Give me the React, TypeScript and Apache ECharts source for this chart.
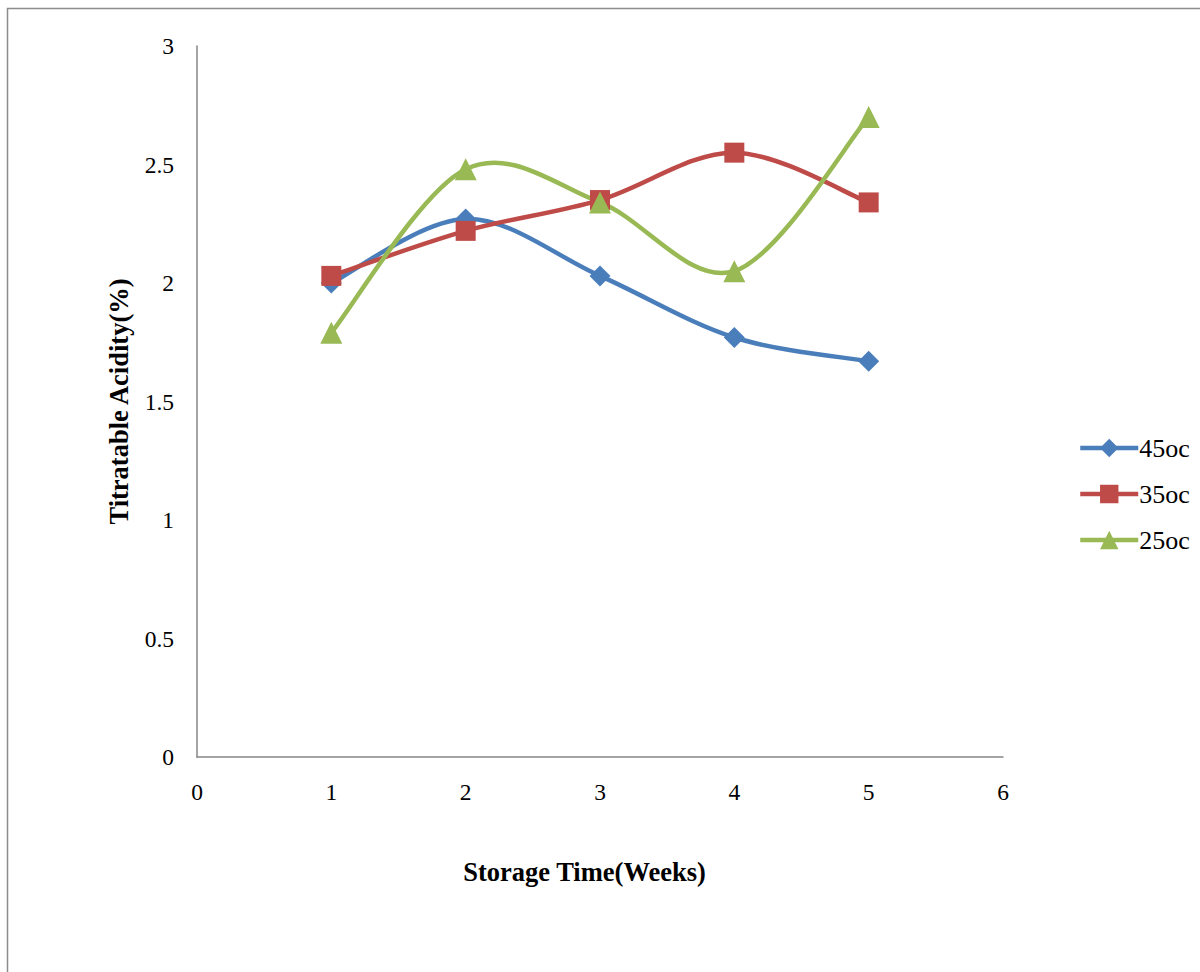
import React, { useEffect, useRef } from "react";
import * as echarts from "echarts";

// Storage time in weeks
const weeks = [1, 2, 3, 4, 5];
// Titratable acidity (%) at each storage temperature
const acidity45 = [2.0, 2.27, 2.03, 1.77, 1.67];
const acidity35 = [2.03, 2.22, 2.35, 2.55, 2.34];
const acidity25 = [1.79, 2.48, 2.34, 2.05, 2.7];
const seriesNames = ["45oc", "35oc", "25oc"];
const yTicks = { min: 0, max: 3, interval: 0.5 };
const xTicks = { min: 0, max: 6, interval: 1 };

const FONT = "'Liberation Serif', 'Times New Roman', serif";
const colors = ["#4A7EBB", "#BE4B48", "#98B954"];
const symbols = ["diamond", "rect", "triangle"];
const LINE_W = 4.5;

// Catmull-Rom spline through pixel points, emitted as cubic Bezier path data
function splinePath(pts: number[][]): string {
  let d = `M${pts[0][0]},${pts[0][1]}`;
  for (let i = 0; i < pts.length - 1; i++) {
    const p0 = pts[Math.max(0, i - 1)];
    const p1 = pts[i];
    const p2 = pts[i + 1];
    const p3 = pts[Math.min(pts.length - 1, i + 2)];
    const c1x = p1[0] + (p2[0] - p0[0]) / 6;
    const c1y = p1[1] + (p2[1] - p0[1]) / 6;
    const c2x = p2[0] - (p3[0] - p1[0]) / 6;
    const c2y = p2[1] - (p3[1] - p1[1]) / 6;
    d += ` C${c1x},${c1y} ${c2x},${c2y} ${p2[0]},${p2[1]}`;
  }
  return d;
}

export default function App() {
  const ref = useRef<HTMLDivElement>(null);

  useEffect(() => {
    if (!ref.current) return;
    const chart = echarts.init(ref.current, null, { renderer: "svg" });
    const all = [acidity45, acidity35, acidity25];

    // smooth connecting curves, one custom series per temperature
    const curves = seriesNames.map((name, i) => ({
      type: "custom",
      name: name + "-curve",
      silent: true,
      z: 1 + i,
      data: [[weeks[0], all[i][0]]],
      renderItem: (_params: any, api: any) => {
        const pts = weeks.map((w, j) => api.coord([w, all[i][j]]));
        return {
          type: "path",
          shape: { pathData: splinePath(pts) },
          style: { fill: "none", stroke: colors[i], lineWidth: LINE_W, lineCap: "round" },
        };
      },
    }));

    // markers (and legend entries) for each temperature
    const markers = seriesNames.map((name, i) => ({
      name,
      type: "line",
      data: weeks.map((w, j) => [w, all[i][j]]),
      symbol: symbols[i],
      symbolSize: i === 0 ? 21 : i === 1 ? 20 : 22,
      showSymbol: true,
      lineStyle: { color: colors[i], width: LINE_W, opacity: 0 },
      itemStyle: { color: colors[i] },
      z: 10 + i,
    }));

    chart.setOption({
      animation: false,
      backgroundColor: "#ffffff",
      textStyle: { fontFamily: FONT, color: "#000" },
      graphic: [
        {
          type: "rect",
          shape: { x: 7.5, y: 8.5, width: 1400, height: 1200 },
          style: { fill: "none", stroke: "#8c8c8c", lineWidth: 1.5 },
          silent: true,
        },
      ],
      grid: { left: 197, right: 197, top: 46, bottom: 215, containLabel: false },
      legend: {
        orient: "vertical",
        left: 1073,
        top: 430,
        itemWidth: 58,
        itemHeight: 23,
        itemGap: 20,
        lineStyle: { opacity: 1, width: LINE_W },
        textStyle: { fontFamily: FONT, fontSize: 26, color: "#000", padding: [0, 0, 0, -4] },
        data: seriesNames,
      },
      xAxis: {
        type: "value",
        min: xTicks.min,
        max: xTicks.max,
        interval: xTicks.interval,
        name: "Storage Time(Weeks)",
        nameLocation: "middle",
        nameGap: 101,
        nameTextStyle: {
          fontFamily: FONT,
          fontSize: 26.5,
          fontWeight: "bold",
          color: "#000",
          padding: [0, 31, 0, 0],
        },
        axisLine: { lineStyle: { color: "#868686", width: 1.5 } },
        axisTick: { show: false },
        splitLine: { show: false },
        axisLabel: { fontFamily: FONT, fontSize: 23.5, color: "#000", margin: 23 },
      },
      yAxis: {
        type: "value",
        min: yTicks.min,
        max: yTicks.max,
        interval: yTicks.interval,
        name: "Titratable Acidity(%)",
        nameLocation: "middle",
        nameGap: 65,
        nameTextStyle: { fontFamily: FONT, fontSize: 26.5, fontWeight: "bold", color: "#000" },
        axisLine: { show: true, lineStyle: { color: "#868686", width: 1.5 } },
        axisTick: { show: false },
        splitLine: { show: false },
        axisLabel: { fontFamily: FONT, fontSize: 23.5, color: "#000", margin: 23 },
      },
      series: [...curves, ...markers],
    });
    return () => chart.dispose();
  }, []);

  return (
    <div
      ref={ref}
      style={{ position: "fixed", left: 0, top: 0, width: 1200, height: 972 }}
    />
  );
}
